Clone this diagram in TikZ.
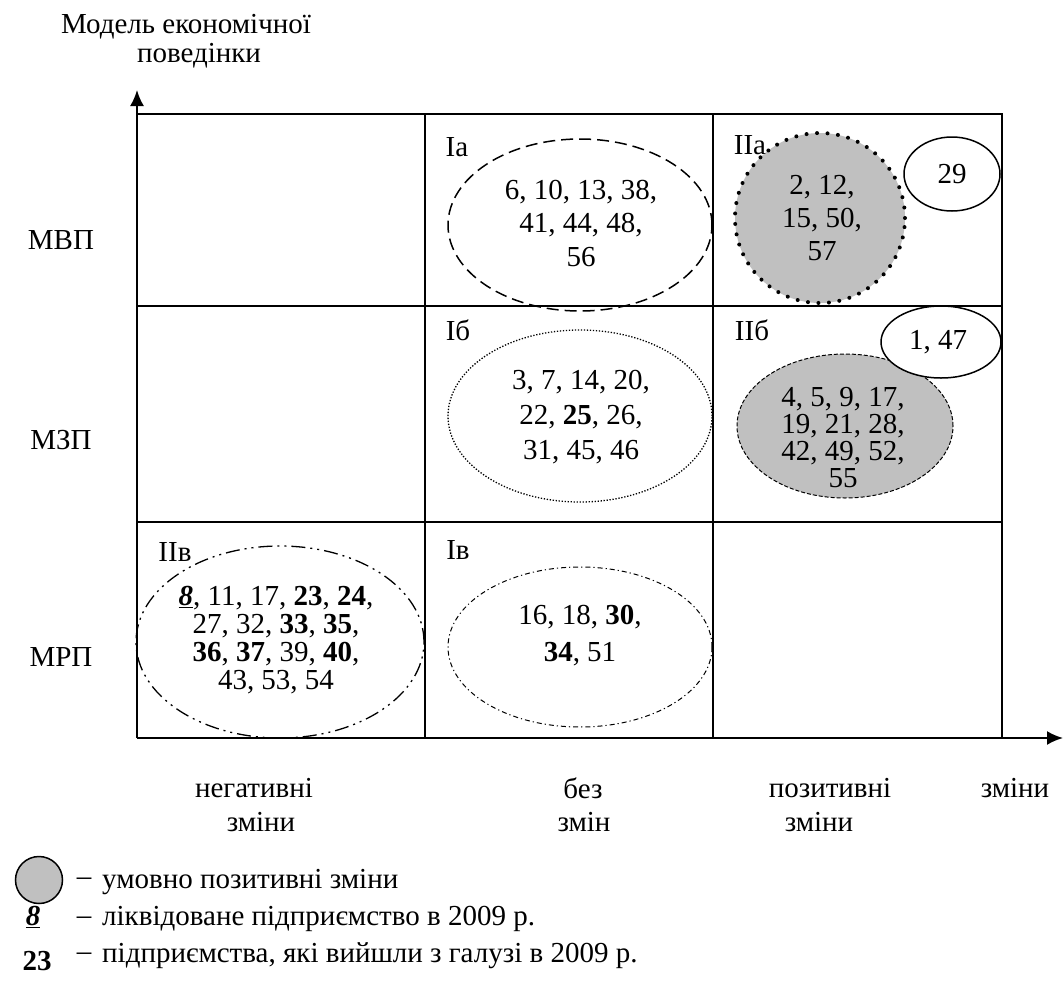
\documentclass[tikz,border=0pt]{standalone}
\usepackage{fontspec}
\setmainfont{Liberation Serif}
\usetikzlibrary{shapes.geometric,arrows.meta}
\definecolor{grayfill}{RGB}{192,192,192}
\begin{document}
\begin{tikzpicture}[x=1pt,y=-1pt,
  txt/.style={font=\fontsize{29}{34}\selectfont, align=center, inner sep=0pt},
  grid/.style={line width=2pt},
  axis/.style={line width=2pt,-{Latex[length=16pt,width=14pt]}},
  oval/.style={ellipse, inner sep=0pt},
  lead/.style={font=\fontsize{29}{#1}\selectfont, align=center, inner sep=0pt}
]
\useasboundingbox (0,0) rectangle (1063,996);
% grid
\coordinate (o) at (137,738);
\coordinate (ytip) at (137,90);
\coordinate (xtip) at (1063,738);
\coordinate (tl) at (137,114);
\coordinate (tr) at (1002,114);
\coordinate (br) at (1002,738);
\coordinate (v1t) at (425,114); \coordinate (v1b) at (425,738);
\coordinate (v2t) at (713,114); \coordinate (v2b) at (713,738);
\coordinate (h1l) at (137,306); \coordinate (h1r) at (1002,306);
\coordinate (h2l) at (137,522); \coordinate (h2r) at (1002,522);
\draw[grid] (tl) -- (tr) -- (br);
\draw[grid] (v1t) -- (v1b);
\draw[grid] (v2t) -- (v2b);
\draw[grid] (h1l) -- (h1r);
\draw[grid] (h2l) -- (h2r);
\draw[axis] (o) -- (ytip);
\draw[axis] (o) -- (xtip);

% ellipses
\node[oval, draw, line width=1.5pt, dash pattern=on 12pt off 6pt, minimum width=264, minimum height=172] (ea) at (580,225) {};
\node[oval, draw, fill=grayfill, line width=4pt, line cap=round, dash pattern=on 0pt off 10.5pt, minimum width=170, minimum height=170] (eIIa) at (820,218) {};
\node[oval, draw, fill=white, line width=1.5pt, minimum width=96, minimum height=74] (e29) at (952,174) {};
\node[oval, draw, line width=1.3pt, dash pattern=on 1.3pt off 1.7pt, minimum width=264, minimum height=172] (eb) at (580,416) {};
\node[oval, draw, fill=grayfill, line width=1pt, dash pattern=on 4pt off 2pt, minimum width=216, minimum height=144] (eIIb) at (845,426) {};
\node[oval, draw, fill=white, line width=1.5pt, minimum width=120, minimum height=72] (e147) at (941,342) {};
\node[oval, draw, line width=1.3pt, dash pattern=on 14pt off 5pt on 2pt off 5pt on 2pt off 5pt, minimum width=288, minimum height=192] (eIIv) at (280,642) {};
\node[oval, draw, line width=1pt, dash pattern=on 5pt off 3pt on 1.2pt off 3pt, minimum width=264, minimum height=160] (ev) at (580,647) {};

% cell labels
\node[txt] (lIa) at (457,147) {Іа};
\node[txt] (lIIa) at (750,145) {ІІа};
\node[txt] (lIb) at (458,330) {Іб};
\node[txt] (lIIb) at (752,330) {ІІб};
\node[txt] (lIIv) at (175,552) {ІІв};
\node[txt] (lIv) at (458,550) {Ів};

% contents
\node[lead=33.5] (tIa) at (581,223) {6, 10, 13, 38,\\41, 44, 48,\\56};
\node[lead=33] (tIIa) at (822,218) {2, 12,\\15, 50,\\57};
\node[txt] (t29) at (952,174) {29};
\node[lead=35] (tIb) at (581,417) {3, 7, 14, 20,\\22, \textbf{25}, 26,\\31, 45, 46};
\node[lead=27] (tIIb) at (843,438) {4, 5, 9, 17,\\19, 21, 28,\\42, 49, 52,\\55};
\node[txt] (t147) at (938,342) {1, 47};
\node[lead=28] (tIIv) at (276,640) {\underline{\textbf{\textit{8}}}, 11, 17, \textbf{23}, \textbf{24},\\27, 32, \textbf{33}, \textbf{35},\\\textbf{36}, \textbf{37}, 39, \textbf{40},\\43, 53, 54};
\node[lead=37] (tIv) at (580,636) {16, 18, \textbf{30},\\\textbf{34}, 51};

% axis labels
\node[txt] (ym1) at (186,27) {Модель економічної};
\node[txt] (ym2) at (199,56) {поведінки};
\node[txt] (r1) at (61,240) {МВП};
\node[txt] (r2) at (61,440) {МЗП};
\node[txt] (r3) at (61,657) {МРП};
\node[txt] (c1a) at (254,788) {негативні};
\node[txt] (c1b) at (261,822) {зміни};
\node[txt] (c2a) at (583,788) {без};
\node[txt] (c2b) at (584,822) {змін};
\node[txt] (c3a) at (830,788) {позитивні};
\node[txt] (c3b) at (819,822) {зміни};
\node[txt] (c4) at (1015,788) {зміни};

% legend
\node[circle, draw, fill=grayfill, line width=1.5pt, minimum size=47, inner sep=0pt] (lg1) at (39,880) {};
\node[txt] (d1) at (84,882) {–};
\node[txt, anchor=west] (g1) at (102,882) {умовно позитивні зміни};
\node[txt] (lg2) at (33,917) {\underline{\textbf{\textit{8}}}};
\node[txt] (d2) at (84,921) {–};
\node[txt, anchor=west] (g2) at (102,919) {ліквідоване підприємство в 2009 р.};
\node[txt] (lg3) at (37,961) {\textbf{23}};
\node[txt] (d3) at (84,957) {–};
\node[txt, anchor=west] (g3) at (102,956) {підприємства, які вийшли з галузі в 2009 р.};
\end{tikzpicture}
\end{document}
